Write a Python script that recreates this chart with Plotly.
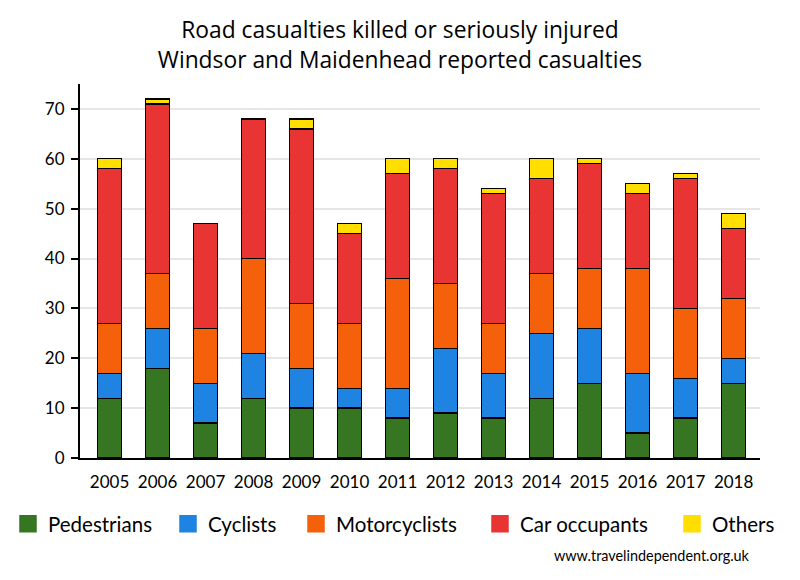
import plotly.graph_objects as go

years = ["2005", "2006", "2007", "2008", "2009", "2010", "2011",
         "2012", "2013", "2014", "2015", "2016", "2017", "2018"]
pedestrians = [12, 18, 7, 12, 10, 10, 8, 9, 8, 12, 15, 5, 8, 15]
cyclists = [5, 8, 8, 9, 8, 4, 6, 13, 9, 13, 11, 12, 8, 5]
motorcyclists = [10, 11, 11, 19, 13, 13, 22, 13, 10, 12, 12, 21, 14, 12]
car_occupants = [31, 34, 21, 28, 35, 18, 21, 23, 26, 19, 21, 15, 26, 14]
others = [2, 1, 0, 0, 2, 2, 3, 2, 1, 4, 1, 2, 1, 3]

series = [
    ("Pedestrians", pedestrians, "#367622"),
    ("Cyclists", cyclists, "#1e83e1"),
    ("Motorcyclists", motorcyclists, "#f5600b"),
    ("Car occupants", car_occupants, "#e83433"),
    ("Others", others, "#ffde00"),
]
# left edge (px) of each legend entry
legend_left = [18, 178, 306, 490, 682]

fig = go.Figure()
for name, vals, col in series:
    fig.add_trace(go.Bar(
        x=years, y=vals, name=name, legendgroup=name, showlegend=False,
        marker=dict(color=col, line=dict(color="black", width=1.3)),
        width=0.5,
    ))
legend_layout = {}
for i, (name, vals, col) in enumerate(series):
    lname = "legend" if i == 0 else f"legend{i + 1}"
    fig.add_trace(go.Scatter(
        x=[None], y=[None], mode="markers", name=name, legendgroup=name,
        marker=dict(symbol="square", size=17, color=col,
                    line=dict(color=col, width=1.5)),
        legend=lname,
    ))
    legend_layout[lname] = dict(
        orientation="h", xref="container", yref="container",
        x=(legend_left[i] - 18) / 800, xanchor="left",
        y=1 - 516 / 580, yanchor="middle",
        font=dict(family="Lato", size=20.5, color="black"),
        bgcolor="rgba(0,0,0,0)",
    )

fig.update_layout(
    barmode="stack",
    width=800, height=580,
    paper_bgcolor="white", plot_bgcolor="white",
    margin=dict(l=72, r=48, t=76, b=130),
    title=dict(
        text="Road casualties killed or seriously injured<br>Windsor and Maidenhead reported casualties",
        x=392 / 800, xanchor="center", y=1 - 30 / 580, yanchor="middle",
        font=dict(family="Open Sans", size=22.8, color="black"),
    ),
    annotations=[dict(
        text="www.travelindependent.org.uk", xref="paper", yref="paper",
        x=(752 - 80) / 680, xanchor="right", y=(458 - 555) / 374, yanchor="middle",
        showarrow=False, font=dict(family="Lato", size=14.4, color="black"),
    )],
    font=dict(family="Lato", color="black"),
    **legend_layout,
)
fig.update_xaxes(
    type="category", range=[-0.615, 13.55],
    showline=True, linecolor="black", linewidth=2,
    ticks="", ticklabelstandoff=8,
    tickfont=dict(family="Lato", size=17, color="black"),
    showgrid=False,
)
fig.update_yaxes(
    range=[0, 75], tickvals=[0, 10, 20, 30, 40, 50, 60, 70],
    showline=True, linecolor="black", linewidth=2,
    ticks="outside", ticklen=7, tickwidth=2, tickcolor="black",
    ticklabelstandoff=3,
    tickfont=dict(family="Lato", size=17, color="black"),
    showgrid=True, gridcolor="#e6e6e6", gridwidth=1.5,
    zeroline=False,
)

fig.write_html("out.html")
